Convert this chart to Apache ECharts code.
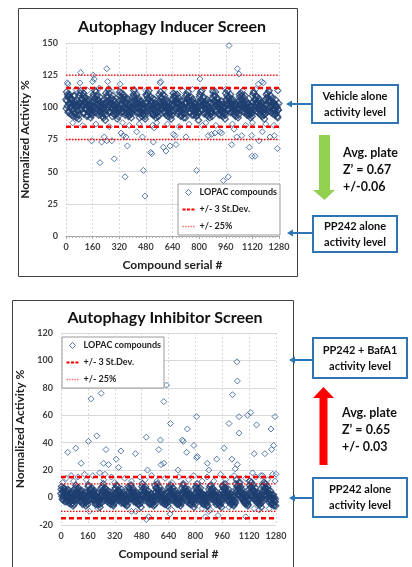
<!DOCTYPE html>
<html><head><meta charset="utf-8">
<script src="https://cdn.jsdelivr.net/npm/echarts@6/dist/echarts.min.js"></script>
<style>html,body{margin:0;padding:0;background:#fff}#c{width:412px;height:567px}</style>
</head><body><div id="c"></div>
<script>
// ---------- DATA ----------
const seriesNames = ['LOPAC compounds', '+/- 3 St.Dev.', '+/- 25%'];
const xTickValues = [0, 160, 320, 480, 640, 800, 960, 1120, 1280];
const inducerYTicks = [0, 25, 50, 75, 100, 125, 150];
const inhibitorYTicks = [-20, 0, 20, 40, 60, 80, 100, 120];
const bandStep = 4;   // serial spacing of dense-band samples
const bandOffsetB = 2; // second sample set sits between the first

// Inducer screen: dense band values, set A (serials 0,4,8,...)
const inducerBandA = [
 106,112,101,108,97,110,103,95,107,100,104,93,102,109,96,101,94,105,98,91,
 109,103,113,99,107,102,111,96,104,108,98,103,94,106,100,97,102,92,99,95,
 104,110,100,107,96,112,102,98,106,94,103,108,97,101,93,105,99,95,100,90,
 111,105,108,100,114,102,97,106,103,99,109,95,101,104,94,98,102,91,97,100,
 105,112,99,108,103,96,110,101,106,94,104,99,107,97,93,102,96,100,92,98,
 108,102,113,106,98,104,110,100,96,107,103,95,101,105,93,99,103,94,98,91,
 103,109,100,111,97,106,102,108,95,104,99,101,94,106,97,92,100,96,99,93,
 110,104,112,99,107,101,105,97,109,102,96,104,100,93,98,103,95,99,91,97,
 106,111,102,97,108,104,100,110,95,103,107,98,101,94,105,96,99,92,100,95,
 109,103,107,112,99,105,101,96,108,102,98,104,94,100,97,103,93,98,96,90,
 104,110,101,106,113,98,103,108,96,102,105,99,94,101,97,104,92,99,95,97,
 107,112,100,105,109,97,104,101,106,95,103,99,102,94,98,100,93,97,96,91,
 111,105,109,102,107,99,104,110,97,103,100,106,95,101,98,93,102,96,99,94,
 105,108,103,111,98,106,101,104,96,109,100,102,94,99,103,95,97,92,100,96,
 109,104,112,100,106,102,97,108,103,99,105,95,101,98,104,93,100,96,91,98,
 106,110,102,108,99,113,104,97,105,101,107,95,103,99,94,102,97,100,92,98
];
// Inducer screen: dense band values, set B (serials 2,6,10,...)
const inducerBandB = [
 99,105,110,96,103,108,100,106,94,102,98,109,95,104,100,92,103,97,101,94,
 104,111,98,106,101,109,95,103,107,99,105,93,101,97,104,95,99,101,94,97,
 108,101,105,113,99,104,109,96,101,105,97,100,104,95,99,102,92,97,103,94,
 103,109,98,105,111,96,104,100,107,93,102,106,98,101,96,103,95,99,93,98,
 109,102,106,111,97,105,99,108,96,103,100,106,95,101,98,94,103,97,95,100,
 104,110,99,108,102,96,106,103,99,105,92,100,104,97,102,95,98,100,93,97,
 110,104,107,99,113,101,98,105,103,96,107,94,102,99,103,95,101,93,97,100,
 105,102,108,104,99,110,96,103,100,106,94,101,98,105,96,100,93,102,97,94,
 102,108,104,110,99,106,103,97,104,100,96,105,93,102,99,101,95,98,103,92,
 104,110,101,106,108,96,103,105,99,94,106,101,97,103,95,100,98,94,101,96,
 108,103,112,99,105,101,107,95,104,99,102,96,106,93,100,98,103,95,97,93,
 103,109,105,98,112,102,97,107,100,104,94,101,97,105,96,102,99,95,100,94,
 106,103,113,98,104,108,101,96,106,99,104,97,102,94,100,103,96,99,92,98,
 110,102,106,100,109,97,103,107,99,101,105,95,103,97,100,94,101,98,95,93,
 104,111,98,106,103,109,100,104,96,107,98,102,94,103,97,99,102,94,99,95,
 102,107,111,97,104,106,100,109,96,103,99,104,97,101,106,95,100,93,98,103
];
// Inducer screen: individual points outside the band [serial, value]
const inducerOutliers = [
 [8,119],[12,118],[84,119],[88,127],[154,74],[160,120],[164,125],[170,122],[204,57],[214,73],
 [230,77],[245,74],[245,130],[250,120],[275,74],[290,60],[325,118],[331,80],[344,78],[355,46],
 [361,77],[369,70],[425,81],[459,77],[465,51],[475,31],[509,65],[515,64],[525,73],[530,84],
 [565,119],[570,120],[585,69],[601,66],[625,70],[645,79],[655,78],[661,71],[721,77],[785,51],
 [805,122],[855,78],[875,79],[895,80],[925,81],[935,80],[946,43],[975,46],[980,148],[996,71],
 [1010,83],[1026,77],[1030,130],[1040,126],[1056,78],[1102,69],[1116,78],[1118,62],[1136,62],
 [1156,118],[1160,74],[1176,120],[1180,81],[1186,119],[1226,77],[1252,78],[1270,68],[1272,113],
 [40,88],[60,114],[100,86],[130,113],[180,87],[200,115],[260,85],[300,113],[340,88],[380,86],
 [410,114],[440,87],[480,113],[520,86],[545,88],[590,114],[610,87],[680,85],[700,113],[740,87],
 [760,114],[820,86],[840,88],[880,113],[900,86],[960,114],[1000,87],[1060,113],[1080,86],
 [1120,88],[1140,114],[1200,87],[1220,112],[1250,86],[1275,113]
];
const inducerStDev = [115, 85];
const inducerPct = [125, 75];

// Inhibitor screen: dense band values, set A (serials 0,4,8,...)
const inhibitorBandA = [
 3,8,-1,5,1,6,-3,2,4,-2,1,5,-4,0,3,-5,-1,2,-6,-2,
 6,1,9,2,-2,4,7,0,3,-3,1,5,-1,-4,2,-2,0,-6,-3,1,
 4,9,2,6,-1,3,7,1,-2,5,0,-4,2,-1,3,-5,0,-3,-7,-1,
 7,2,5,10,1,4,-1,6,2,-3,3,0,-2,4,-5,1,-3,-1,-6,-2,
 2,7,4,-1,8,3,0,5,-2,2,-4,1,4,-3,0,-5,2,-2,-6,-1,
 8,3,6,1,9,-1,4,2,5,-2,0,3,-4,1,-3,2,-5,-1,-2,-7,
 5,10,2,7,0,4,6,-1,3,1,-3,2,-5,0,3,-4,-2,1,-6,-3,
 9,4,7,2,5,-1,8,1,3,-2,4,0,-4,2,-3,1,-5,-1,-3,-6,
 4,8,1,6,3,-2,5,2,-1,4,0,-3,2,-5,1,-2,-4,0,-6,-3,
 7,2,10,4,1,6,-1,3,5,-2,1,-4,2,0,-3,-5,1,-2,-7,-1,
 3,8,5,0,7,2,-2,4,1,-3,3,-1,-5,2,-2,0,-4,-6,-1,-3,
 6,1,4,9,2,5,-1,3,0,-3,2,-5,1,-2,-4,0,-6,-3,-1,-7,
 5,9,3,6,0,7,2,-2,4,1,-3,2,-1,-5,0,-4,-2,-6,1,-3,
 10,4,8,2,6,11,1,5,3,-1,4,0,-3,2,-2,-5,0,-4,-6,-2,
 6,12,3,8,1,5,9,0,4,-2,2,-1,-4,3,-3,0,-5,-2,-7,-1,
 8,3,11,5,2,7,-1,4,6,-3,1,3,-2,-5,0,-4,2,-6,-3,-1
];
// Inhibitor screen: dense band values, set B (serials 2,6,10,...)
const inhibitorBandB = [
 6,1,4,-2,7,3,0,5,-3,2,6,-1,3,-3,1,-2,4,-4,0,-5,
 2,7,4,-1,6,3,1,-2,5,0,-3,3,-5,1,-1,4,-4,-2,1,-5,
 8,3,-2,5,2,6,-1,4,3,-2,2,-5,1,4,-3,0,-2,-5,1,-4,
 3,8,1,6,-2,7,3,0,-1,5,-2,2,-4,0,2,-3,-1,-5,0,-4,
 6,3,9,2,5,-2,4,1,3,-1,6,-3,0,2,-4,1,-3,0,-5,-2,
 4,7,2,-1,5,3,7,0,-3,3,1,-2,4,-3,0,-5,-1,1,-4,-2,
 8,2,6,4,-2,8,1,3,-1,5,0,-4,1,-2,2,-5,0,-3,-1,-5,
 4,7,1,10,3,6,0,4,-3,2,-1,5,-2,0,-5,3,-2,-4,0,-3,
 7,2,5,9,0,3,7,-2,2,0,5,-2,-4,3,-1,-5,2,-3,-1,-4,
 3,9,5,0,7,2,4,-3,2,6,-1,3,-5,-1,2,-3,0,-4,-2,-5,
 7,1,10,4,-1,5,3,7,-2,1,-4,2,0,-3,1,-5,2,-2,-6,0,
 3,8,2,6,0,7,3,-2,5,1,-2,4,-4,1,-3,2,-5,0,-4,-2,
 8,2,7,4,10,1,5,3,-1,6,-2,0,3,-4,2,-3,1,-5,-2,-4,
 6,13,5,9,3,7,4,8,0,6,2,-2,3,-4,1,0,-3,2,-5,-1,
 9,4,7,11,2,6,-1,5,3,7,0,-3,4,1,-2,-5,2,-4,0,-3,
 5,9,2,7,10,1,4,8,0,3,-2,5,1,-4,2,-1,-5,0,-3,-6
];
// Inhibitor screen: individual points outside the band [serial, value]
const inhibitorOutliers = [
 [40,33],[88,36],[120,25],[140,17],[163,41],[179,72],[213,45],[239,76],[253,25],[262,17],
 [268,35],[283,24],[329,28],[343,22],[357,34],[443,32],[508,44],[515,20],[582,35],[592,42],
 [596,24],[612,25],[612,70],[628,82],[652,54],[697,20],[722,42],[728,41],[748,33],[752,50],
 [791,38],[807,29],[812,30],[807,59],[871,25],[880,20],[927,28],[971,36],[1000,54],[1017,28],
 [1021,75],[1037,21],[1047,99],[1050,85],[1050,24],[1060,59],[1060,47],[1110,60],[1130,62],
 [1150,32],[1164,53],[1190,16],[1214,32],[1250,50],[1254,35],[1266,38],[1274,59],[1280,17],
 [10,11],[30,14],[60,16],[75,12],[100,15],[150,13],[190,16],[230,18],[255,13],[300,15],
 [320,11],[380,14],[420,12],[470,15],[500,13],[540,16],[570,12],[620,14],[660,11],[700,15],
 [760,13],[790,16],[840,12],[870,15],[910,12],[950,17],[980,13],[1030,16],[1070,11],[1100,14],
 [1140,18],[1160,15],[1200,16],[1230,13],[1260,17],[1275,12],
 [170,-10],[220,-8],[419,-10],[445,-10],[508,-16],[522,-14],[648,-12],[660,-9],[840,-8],
 [860,-14],[880,-10],[890,-9],[935,-13],[1000,-7],[1100,-14],[1150,-8],[1180,-9],[1240,-8]
];
const inhibitorStDev = [15, -15];
const inhibitorPct = [10, -10];

// ---------- BUILD ----------
const FONT = 'Lato, "Liberation Sans", sans-serif';
function bandPoints(band, offset){ return band.map((v,i)=>[i*bandStep+offset, v]); }
const xMin = xTickValues[0], xMax = xTickValues[xTickValues.length-1];

function scatter(idx, pts, dense){
  return { name: seriesNames[0], type:'scatter', xAxisIndex:idx, yAxisIndex:idx,
    symbol:'diamond', symbolSize: dense ? 6.5 : 6, data: pts, z:2, large:false,
    itemStyle:{ color:'rgba(255,255,255,0)', borderColor: dense ? '#1E3E70' : '#2E5A96', borderWidth: dense ? 1.3 : 1 } };
}
function refLine(idx, name, y, dashed){
  return { name, type:'line', xAxisIndex:idx, yAxisIndex:idx, symbol:'none', silent:true, z:3,
    data:[[xMin,y],[xMax,y]],
    itemStyle:{color: dashed ? '#FF0000' : '#FF5050'},
    lineStyle: dashed ? {color:'#FF0000', width:2.5, type:[5,3]} : {color:'#FF0000', width:1.3, type:[1.5,1.5]} };
}
const series = [
  scatter(0, inducerOutliers, false),
  scatter(0, bandPoints(inducerBandA,0).concat(bandPoints(inducerBandB,bandOffsetB)), true),
  ...inducerStDev.map(v=>refLine(0, seriesNames[1], v, true)),
  ...inducerPct.map(v=>refLine(0, seriesNames[2], v, false)),
  scatter(1, inhibitorOutliers, false),
  scatter(1, bandPoints(inhibitorBandA,0).concat(bandPoints(inhibitorBandB,bandOffsetB)), true),
  ...inhibitorStDev.map(v=>refLine(1, seriesNames[1], v, true)),
  ...inhibitorPct.map(v=>refLine(1, seriesNames[2], v, false))
];

function xAxis(idx){
  return { type:'value', gridIndex:idx, min:xMin, max:xMax, interval:160,
    axisLine:{show:true, lineStyle:{color:'#a6a6a6'}},
    axisTick:{show:true, length:3, lineStyle:{color:'#a6a6a6'}},
    minorTick:{show:true, splitNumber:8, length:2, lineStyle:{color:'#b0b0b0'}},
    splitLine:{show:true, lineStyle:{color:'#d9d9d9', type:[2,2]}},
    axisLabel:{fontSize:9, fontWeight:'bold', color:'#404040', margin:7, fontFamily:FONT, formatter:v=>String(v)},
    name:'Compound serial #', nameLocation:'middle', nameGap:23,
    nameTextStyle:{fontSize:12, fontWeight:'bold', color:'#222', fontFamily:FONT} };
}
function yAxis(idx, ticks){
  return { type:'value', gridIndex:idx, min:ticks[0], max:ticks[ticks.length-1], interval:ticks[1]-ticks[0],
    axisLine:{show:false}, axisTick:{show:false},
    splitLine:{show:true, lineStyle:{color:'#d9d9d9'}},
    axisLabel:{fontSize:9, fontWeight:'bold', color:'#404040', margin:8, fontFamily:FONT, formatter:v=>String(v)},
    name:'Normalized Activity %', nameLocation:'middle', nameGap:26, nameRotate:90,
    nameTextStyle:{fontSize:12, fontWeight:'bold', color:'#222', fontFamily:FONT} };
}
// legend icons (bounding box 12x8 so they are not stretched)
const diamondIcon = 'path://M0,0 M12,8 M6,1L9,4L6,7L3,4Z';
const dashIcon = 'path://M0,0h3.5v2.5h-3.5z M5,0h3.5v2.5h-3.5z M10,0h3.5v2.5h-3.5z';
const dotIcon = 'path://M0,0h1.5v1.5h-1.5z M2.75,0h1.5v1.5h-1.5z M5.5,0h1.5v1.5h-1.5z M8.25,0h1.5v1.5h-1.5z M11,0h1.5v1.5h-1.5z';
function legend(left, top){
  return { data:[
      {name:seriesNames[0], icon:diamondIcon, itemStyle:{color:'rgba(255,255,255,0)', borderColor:'#2E5A96', borderWidth:1}},
      {name:seriesNames[1], icon:dashIcon, itemStyle:{color:'#FF0000', borderColor:'#FF0000', borderWidth:0}},
      {name:seriesNames[2], icon:dotIcon, itemStyle:{color:'#FF6A6A', borderColor:'#FF6A6A', borderWidth:0}}
    ], orient:'vertical', left, top, itemWidth:12, itemHeight:8, itemGap:8,
    padding:[4,3,4,4], backgroundColor:'#fff', borderColor:'#9a9a9a', borderWidth:1, z:10,
    selectedMode:false,
    textStyle:{fontSize:9, fontWeight:'bold', color:'#222', fontFamily:FONT} };
}

const BLUE = '#2F75B5';
function box(x,y,w,h,text){
  return [
    {type:'rect', shape:{x,y,width:w,height:h}, style:{fill:'#fff', stroke:BLUE, lineWidth:2}},
    {type:'text', x:x+w/2, y:y+h/2, style:{text, fill:'#111', font:'bold 11px '+FONT, align:'center', verticalAlign:'middle', lineHeight:16}}
  ];
}
function leftArrow(x1, x2, y){
  return [
    {type:'line', shape:{x1, y1:y, x2:x2+5, y2:y}, style:{stroke:BLUE, lineWidth:2}},
    {type:'polygon', shape:{points:[[x2,y],[x2+6,y-3.5],[x2+6,y+3.5]]}, style:{fill:BLUE}}
  ];
}
const graphics = [
  {type:'rect', shape:{x:18.5, y:8.5, width:279, height:268}, style:{fill:'none', stroke:'#404040', lineWidth:1}},
  {type:'rect', shape:{x:12.5, y:300.5, width:281, height:290}, style:{fill:'none', stroke:'#404040', lineWidth:1}},
  {type:'text', x:172, y:27, style:{text:'Autophagy Inducer Screen', fill:'#111', font:'bold 16px '+FONT, align:'center', verticalAlign:'middle'}},
  {type:'text', x:165, y:318, style:{text:'Autophagy Inhibitor Screen', fill:'#111', font:'bold 16px '+FONT, align:'center', verticalAlign:'middle'}},
  ...box(312, 85, 86, 38, 'Vehicle alone\nactivity level'),
  ...leftArrow(312, 286, 104),
  ...box(313, 216, 84, 36, 'PP242 alone\nactivity level'),
  ...leftArrow(313, 287, 233),
  {type:'polygon', shape:{points:[[319,135],[330,135],[330,190],[335,190],[324.5,200],[313,190],[319,190]]}, style:{fill:'#92D050'}},
  {type:'text', x:343, y:170, style:{text:'Avg. plate\nZ\u2019 = 0.67\n+/-0.06', fill:'#111', font:'bold 12.5px '+FONT, align:'left', verticalAlign:'middle', lineHeight:17}},
  ...box(313, 338, 94, 40, 'PP242 + BafA1\nactivity level'),
  ...leftArrow(313, 289, 360),
  {type:'polygon', shape:{points:[[323.5,387],[334,398],[327.5,398],[327.5,465],[319.5,465],[319.5,398],[313,398]]}, style:{fill:'#FF0000'}},
  {type:'text', x:342, y:430, style:{text:'Avg. plate\nZ\u2019 = 0.65\n+/- 0.03', fill:'#111', font:'bold 12.5px '+FONT, align:'left', verticalAlign:'middle', lineHeight:17}},
  ...box(313, 478, 94, 39, 'PP242 alone\nactivity level'),
  ...leftArrow(313, 289, 498)
];

const chart = echarts.init(document.getElementById('c'), null, {renderer:'canvas'});
chart.setOption({
  animation:false,
  backgroundColor:'#fff',
  grid:[
    {left:66, top:43, width:213, height:193},
    {left:61, top:333, width:215, height:192}
  ],
  xAxis:[xAxis(0), xAxis(1)],
  yAxis:[yAxis(0, inducerYTicks), yAxis(1, inhibitorYTicks)],
  legend:[legend(178,184), legend(62,337)],
  series,
  graphic:{elements:graphics}
});
</script></body></html>
